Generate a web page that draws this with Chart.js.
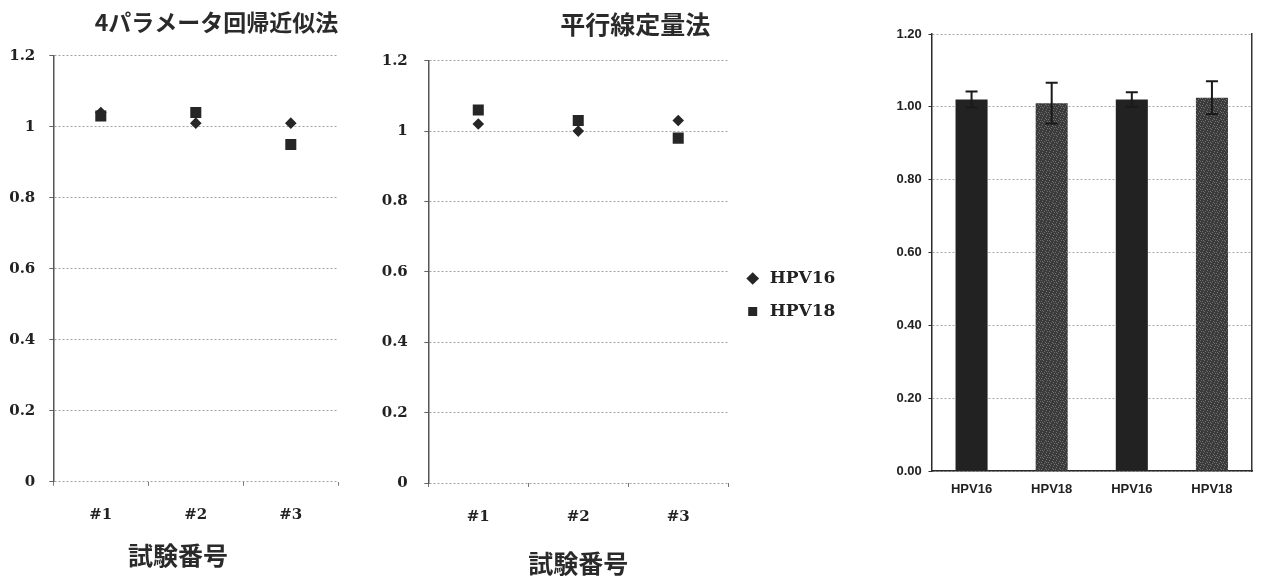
<!DOCTYPE html>
<html><head><meta charset="utf-8">
<script src="https://cdn.jsdelivr.net/npm/chart.js@4.4.1/dist/chart.umd.min.js"></script>
<style>
html,body{margin:0;padding:0;background:#fff;}
body{width:1261px;height:582px;position:relative;overflow:hidden;}
canvas{position:absolute;top:0;}
</style></head><body>
<canvas id="c1" width="360" height="582" style="left:0px"></canvas>
<canvas id="c2" width="480" height="582" style="left:375px"></canvas>
<canvas id="c3" width="381" height="582" style="left:880px"></canvas>
<script>
// ---- data ----
const trials = ['#1', '#2', '#3'];
const fourParamHPV16 = [1.04, 1.01, 1.01];
const fourParamHPV18 = [1.03, 1.04, 0.95];
const parallelHPV16 = [1.02, 1.00, 1.03];
const parallelHPV18 = [1.06, 1.03, 0.98];
const scatterTickLabels = ['0', '0.2', '0.4', '0.6', '0.8', '1', '1.2'];
const barCategories = ['HPV16', 'HPV18', 'HPV16', 'HPV18'];
const barValues = [1.02, 1.01, 1.02, 1.025];
const barErrors = [0.022, 0.056, 0.02, 0.045];
const barTickLabels = ['0.00', '0.20', '0.40', '0.60', '0.80', '1.00', '1.20'];

// ---- styling ----
const CJK = "'Noto Sans CJK JP', sans-serif";
const SERIF = "'DejaVu Serif', serif";
const SANS = "'Liberation Sans', Arial, sans-serif";
const INK = '#262626';
const LABEL_W = 26.6; // approx. width of the widest y tick label ("1.2")

function scatterChart(id, titleText, s16, s18, g) {
  return new Chart(document.getElementById(id), {
    type: 'line',
    data: {
      labels: trials,
      datasets: [
        { label: 'HPV16', data: s16, showLine: false, pointStyle: 'rectRot', pointRadius: 5.8,
          backgroundColor: INK, borderColor: INK, borderWidth: 0 },
        { label: 'HPV18', data: s18, showLine: false, pointStyle: 'rect', pointRadius: 7.8,
          backgroundColor: INK, borderColor: INK, borderWidth: 0 }
      ]
    },
    options: {
      responsive: false, animation: false,
      layout: { padding: g.pad },
      plugins: {
        legend: g.legend,
        tooltip: { enabled: false },
        title: { display: true, text: titleText, align: g.titleAlign, color: '#2a2a2a',
          font: { family: CJK, size: g.titleSize, weight: 'bold' }, padding: g.titlePad },
        subtitle: g.subtitle
      },
      scales: {
        x: {
          offset: true,
          grid: { display: true, offset: true, drawOnChartArea: false, drawTicks: true, tickLength: 4, color: '#777' },
          border: { display: false },
          ticks: { color: '#222', padding: g.xTickPad, font: { family: SERIF, size: 15, weight: 'bold' } },
          title: g.xTitle,
          afterFit: s => { s.height = g.xH; }
        },
        y: {
          min: 0, max: 1.2,
          ticks: { stepSize: 0.2, color: '#222', mirror: true, crossAlign: 'far',
            padding: -(g.yGap + LABEL_W),
            font: { family: SERIF, size: 15, weight: 'bold' },
            callback: (v, i) => scatterTickLabels[i] },
          grid: { color: '#a0a0a0', lineWidth: 1, tickLength: 4, tickColor: '#666' },
          border: { display: true, color: '#555', width: 1.5, dash: [2, 2] },
          afterFit: s => { s.width = g.yW; }
        }
      }
    }
  });
}

const axisTitleFont = { family: CJK, size: 25, weight: 'bold' };

// speckled fill for the HPV18 bars (fixed tile, imitating the print grain)
function grainPattern() {
  const t = document.createElement('canvas');
  t.width = 7; t.height = 7;
  const c = t.getContext('2d');
  c.fillStyle = '#3b3b3b';
  c.fillRect(0, 0, 7, 7);
  c.fillStyle = '#6e6e6e';
  [[0, 0], [3, 1], [6, 2], [2, 3], [5, 4], [1, 5], [4, 6], [5, 0], [1, 2]].forEach(p => c.fillRect(p[0], p[1], 1, 1));
  return document.getElementById('c3').getContext('2d').createPattern(t, 'repeat');
}

const errorBarPlugin = {
  id: 'errorBars',
  afterDatasetsDraw(chart) {
    const meta = chart.getDatasetMeta(0);
    const ys = chart.scales.y;
    const ctx = chart.ctx;
    ctx.save();
    ctx.strokeStyle = '#1a1a1a';
    ctx.lineWidth = 2;
    meta.data.forEach((bar, i) => {
      const top = ys.getPixelForValue(barValues[i] + barErrors[i]);
      const bot = ys.getPixelForValue(barValues[i] - barErrors[i]);
      const x = bar.x;
      ctx.beginPath();
      ctx.moveTo(x, top); ctx.lineTo(x, bot);
      ctx.moveTo(x - 6, top); ctx.lineTo(x + 6, top);
      ctx.moveTo(x - 6, bot); ctx.lineTo(x + 6, bot);
      ctx.stroke();
    });
    ctx.restore();
  }
};

function build() {
  scatterChart('c1', '4パラメータ回帰近似法', fourParamHPV16, fourParamHPV18, {
    pad: { top: 0, left: 17.7, right: 21.7, bottom: 0 },
    legend: { display: false },
    titleAlign: 'end', titleSize: 23, titlePad: { top: 8.2, bottom: 19.9 },
    subtitle: { display: true, position: 'bottom', text: '試験番号', color: '#2a2a2a',
      font: axisTitleFont, padding: { top: 8.9, bottom: 11.4 } },
    xTitle: { display: false },
    xH: 50, xTickPad: 20.3,
    yW: 35.6, yGap: 17.5
  });

  scatterChart('c2', '平行線定量法', parallelHPV16, parallelHPV18, {
    pad: { top: 8, left: 50, right: 9.6, bottom: 0 },
    legend: {
      display: true, position: 'right', maxWidth: 200,
      labels: { usePointStyle: true, boxWidth: 17, boxHeight: 9, padding: 16, color: '#222',
        textAlign: 'left', font: { family: SERIF, size: 17, weight: 'bold' } }
    },
    titleAlign: 'center', titleSize: 25, titlePad: { top: 1.5, bottom: 21.2 },
    subtitle: { display: false },
    xTitle: { display: true, text: '試験番号', color: '#2a2a2a', font: axisTitleFont,
      padding: { top: 0, bottom: 4 } },
    xH: 99, xTickPad: 20.7,
    yW: 3.3, yGap: 20
  });

  const grain = grainPattern();
  new Chart(document.getElementById('c3'), {
    type: 'bar',
    data: {
      labels: barCategories,
      datasets: [{
        label: '相対力価',
        data: barValues,
        backgroundColor: ['#222222', grain, '#222222', grain],
        barPercentage: 0.4, categoryPercentage: 1
      }]
    },
    options: {
      responsive: false, animation: false,
      layout: { padding: { top: 34, left: 0, right: 9, bottom: 0 } },
      plugins: { legend: { display: false }, tooltip: { enabled: false } },
      scales: {
        x: {
          grid: { display: false, drawTicks: false },
          border: { display: true, color: '#2a2a2a', width: 1.5 },
          ticks: { color: '#222', padding: 10.4, font: { family: SANS, size: 13, weight: 'bold' } },
          afterFit: s => { s.height = 111; }
        },
        y: {
          min: 0, max: 1.2,
          ticks: { stepSize: 0.2, color: '#222', padding: 6.8,
            font: { family: SANS, size: 13, weight: 'bold' },
            callback: (v, i) => barTickLabels[i] },
          grid: { color: '#a8a8a8', lineWidth: 1, tickLength: 3, tickColor: '#333' },
          border: { display: true, color: '#2a2a2a', width: 1.5, dash: [2, 2] },
          afterFit: s => { s.width = 51.5; }
        },
        y2: {
          position: 'right', display: true,
          grid: { display: false, drawTicks: false },
          ticks: { display: false },
          border: { display: true, color: '#333', width: 1.5 },
          afterFit: s => { s.width = 0; }
        }
      }
    },
    plugins: [errorBarPlugin]
  });
}

const fontsToLoad = [
  "bold 17px 'DejaVu Serif'", "bold 15px 'DejaVu Serif'",
  "bold 25px 'Noto Sans CJK JP'", "bold 13px 'Liberation Sans'"
];
Promise.all(fontsToLoad.map(f => document.fonts.load(f, 'HPV16#0.2試験')))
  .catch(() => null)
  .then(build);
</script>
</body></html>
